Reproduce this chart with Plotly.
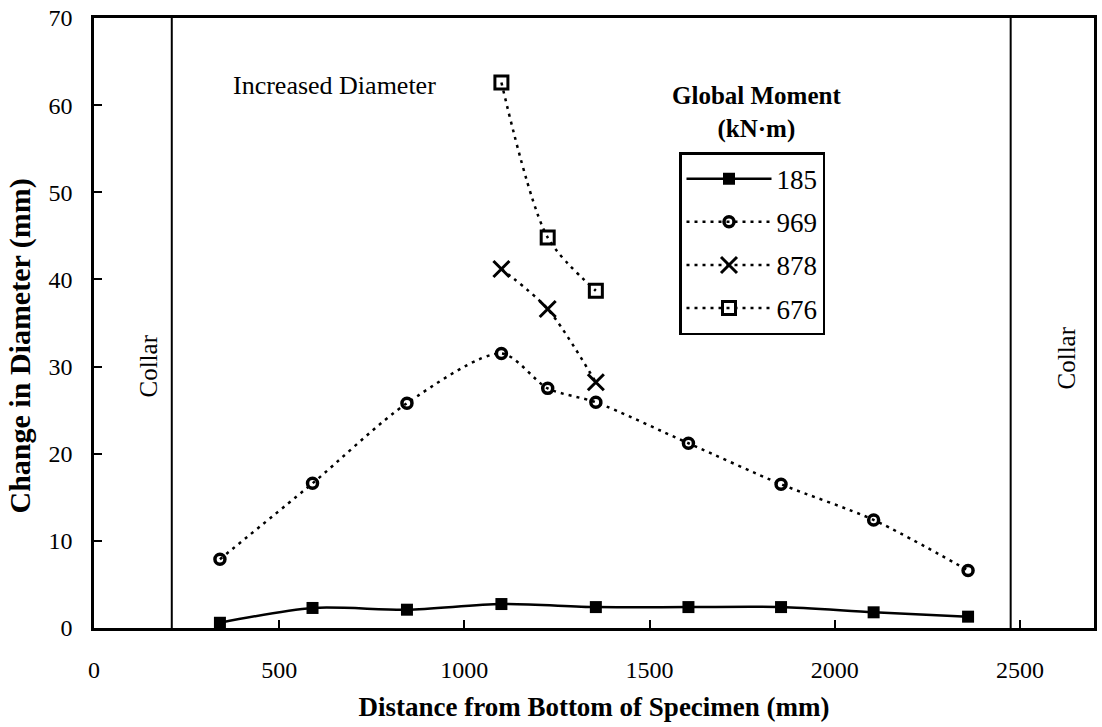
import plotly.graph_objects as go

# ---- data ----
x_185 = [340, 590, 845, 1100, 1355, 1605, 1855, 2105, 2360]
y_185 = [0.6, 2.3, 2.1, 2.75, 2.4, 2.4, 2.4, 1.8, 1.3]

x_969 = [340, 590, 845, 1100, 1225, 1355, 1605, 1855, 2105, 2360]
y_969 = [7.9, 16.6, 25.8, 31.5, 27.5, 25.9, 21.2, 16.5, 12.4, 6.6]

x_878 = [1100, 1225, 1355]
y_878 = [41.2, 36.6, 28.2]

x_676 = [1100, 1225, 1355]
y_676 = [62.6, 44.8, 38.7]

x_ticks = [0, 500, 1000, 1500, 2000, 2500]
y_ticks = [0, 10, 20, 30, 40, 50, 60, 70]
collar_positions = [210, 2475]

FONT = "Liberation Serif"
DOT = "3px,5px"

fig = go.Figure()
fig.add_trace(go.Scatter(
    x=x_185, y=y_185, name="185", mode="lines+markers", legendgroup="a",
    line=dict(color="black", width=2.5, shape="spline", smoothing=0.8),
    marker=dict(symbol="square", size=12, color="black")))
fig.add_trace(go.Scatter(
    x=x_969, y=y_969, name="969", mode="lines+markers", legendgroup="b",
    line=dict(color="black", width=2.5, dash=DOT, shape="spline", smoothing=0.8),
    marker=dict(symbol="circle-open", size=10, color="black", line=dict(width=3.5, color="black"))))
fig.add_trace(go.Scatter(
    x=x_878, y=y_878, name="878", mode="lines+markers", legendgroup="c",
    line=dict(color="black", width=2.5, dash=DOT, shape="spline", smoothing=0.8),
    marker=dict(symbol="x-thin-open", size=16, color="black", line=dict(width=3, color="black"))))
fig.add_trace(go.Scatter(
    x=x_676, y=y_676, name="676", mode="lines+markers", legendgroup="d",
    line=dict(color="black", width=2.5, dash=DOT, shape="spline", smoothing=0.8),
    marker=dict(symbol="square-open", size=13, color="black", line=dict(width=3, color="black"))))

for cx in collar_positions:
    fig.add_shape(type="line", xref="x", yref="y", x0=cx, x1=cx, y0=0, y1=70,
                  line=dict(color="black", width=2))

fig.add_annotation(x=148, y=30.1, xref="x", yref="y", text="Collar",
                   textangle=-90, showarrow=False, font=dict(family=FONT, size=25, color="black"))
fig.add_annotation(x=2626, y=31.0, xref="x", yref="y", text="Collar",
                   textangle=-90, showarrow=False, font=dict(family=FONT, size=25, color="black"))
fig.add_annotation(x=650, y=62.2, xref="x", yref="y", text="Increased Diameter",
                   showarrow=False, font=dict(family=FONT, size=26, color="black"))
fig.add_annotation(x=1788, y=59.2, xref="x", yref="y", text="<b>Global Moment</b><br><b>(kN·m)</b>",
                   showarrow=False, font=dict(family=FONT, size=25, color="black"))
# y-axis title (placed as annotation to match its offset along the axis)
fig.add_annotation(x=-0.074, y=0.4615, xref="paper", yref="paper", text="<b>Change in Diameter (mm)</b>",
                   textangle=-90, showarrow=False, xanchor="center", yanchor="middle",
                   font=dict(family=FONT, size=30, color="black"))

fig.update_layout(
    width=1102, height=727,
    margin=dict(l=94, r=5, t=17, b=99),
    paper_bgcolor="white", plot_bgcolor="white",
    font=dict(family=FONT, color="black", size=24),
    showlegend=True,
    legend=dict(x=0.585, y=0.78, xanchor="left", yanchor="top",
                bordercolor="black", borderwidth=2.5, bgcolor="white",
                font=dict(family=FONT, size=27, color="black"),
                tracegroupgap=5, itemwidth=85),
    xaxis=dict(range=[0, 2700], tickvals=x_ticks, ticks="inside", ticklen=8, tickwidth=2,
               tickcolor="black", showline=True, linecolor="black", linewidth=2.5, mirror=True,
               showgrid=False, zeroline=False, ticklabelstandoff=18,
               tickfont=dict(family=FONT, size=24),
               title=dict(text="<b>Distance from Bottom of Specimen (mm)</b>",
                          font=dict(family=FONT, size=27), standoff=16)),
    yaxis=dict(range=[0, 70], tickvals=y_ticks, ticks="inside", ticklen=8, tickwidth=2,
               tickcolor="black", showline=True, linecolor="black", linewidth=2.5, mirror=True,
               showgrid=False, zeroline=False, ticklabelstandoff=14,
               tickfont=dict(family=FONT, size=24)),
)

fig.write_html("out.html")
